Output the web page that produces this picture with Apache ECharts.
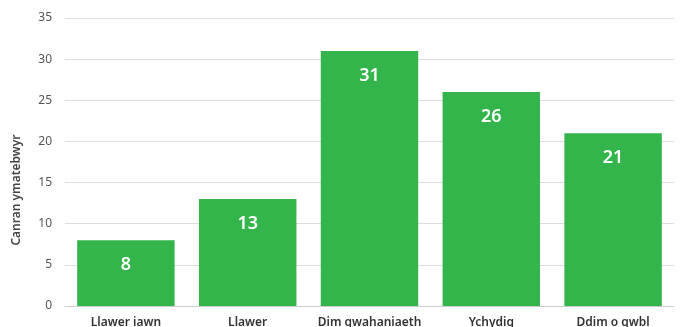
<!DOCTYPE html>
<html>
<head>
<meta charset="utf-8">
<script src="https://cdn.jsdelivr.net/npm/echarts@6/dist/echarts.min.js"></script>
<style>
  html, body { margin: 0; padding: 0; background: #fff; }
  #chart { width: 681px; height: 327px; }
</style>
</head>
<body>
<div id="chart"></div>
<script>
// Survey responses: share of respondents per answer
const categories = ['Llawer iawn', 'Llawer', 'Dim gwahaniaeth', 'Ychydig', 'Ddim o gwbl'];
const values = [8, 13, 31, 26, 21];
const yTicks = [0, 5, 10, 15, 20, 25, 30, 35];

const FONT = '"Noto Sans", "Open Sans", sans-serif';

const chart = echarts.init(document.getElementById('chart'));
chart.setOption({
  animation: false,
  textStyle: { fontFamily: FONT },
  grid: { left: 65, right: 7, top: 18, bottom: 21, containLabel: false, outerBoundsMode: 'none' },
  xAxis: {
    type: 'category',
    data: categories,
    axisLine: { lineStyle: { color: '#cccccc' } },
    axisTick: { show: false },
    axisLabel: { interval: 0, color: '#333333', fontSize: 12, fontWeight: 600, margin: 11, fontFamily: FONT }
  },
  yAxis: {
    type: 'value',
    min: yTicks[0],
    max: yTicks[yTicks.length - 1],
    interval: 5,
    name: 'Canran ymatebwyr',
    nameLocation: 'middle',
    nameRotate: 90,
    nameGap: 42,
    nameTextStyle: { color: '#444444', fontSize: 12, fontWeight: 600, fontFamily: FONT, padding: [0, 56, 0, 0] },
    axisLine: { show: false },
    axisTick: { show: false },
    axisLabel: { color: '#555555', fontSize: 12, margin: 13, fontFamily: FONT },
    splitLine: { lineStyle: { color: '#dddddd' } }
  },
  series: [{
    type: 'bar',
    data: values,
    barCategoryGap: '20%',
    itemStyle: { color: '#33b54b' },
    label: {
      show: true,
      position: 'insideTop',
      distance: 16,
      color: '#ffffff',
      fontSize: 18,
      fontWeight: 600,
      fontFamily: FONT
    }
  }]
});
</script>
</body>
</html>
